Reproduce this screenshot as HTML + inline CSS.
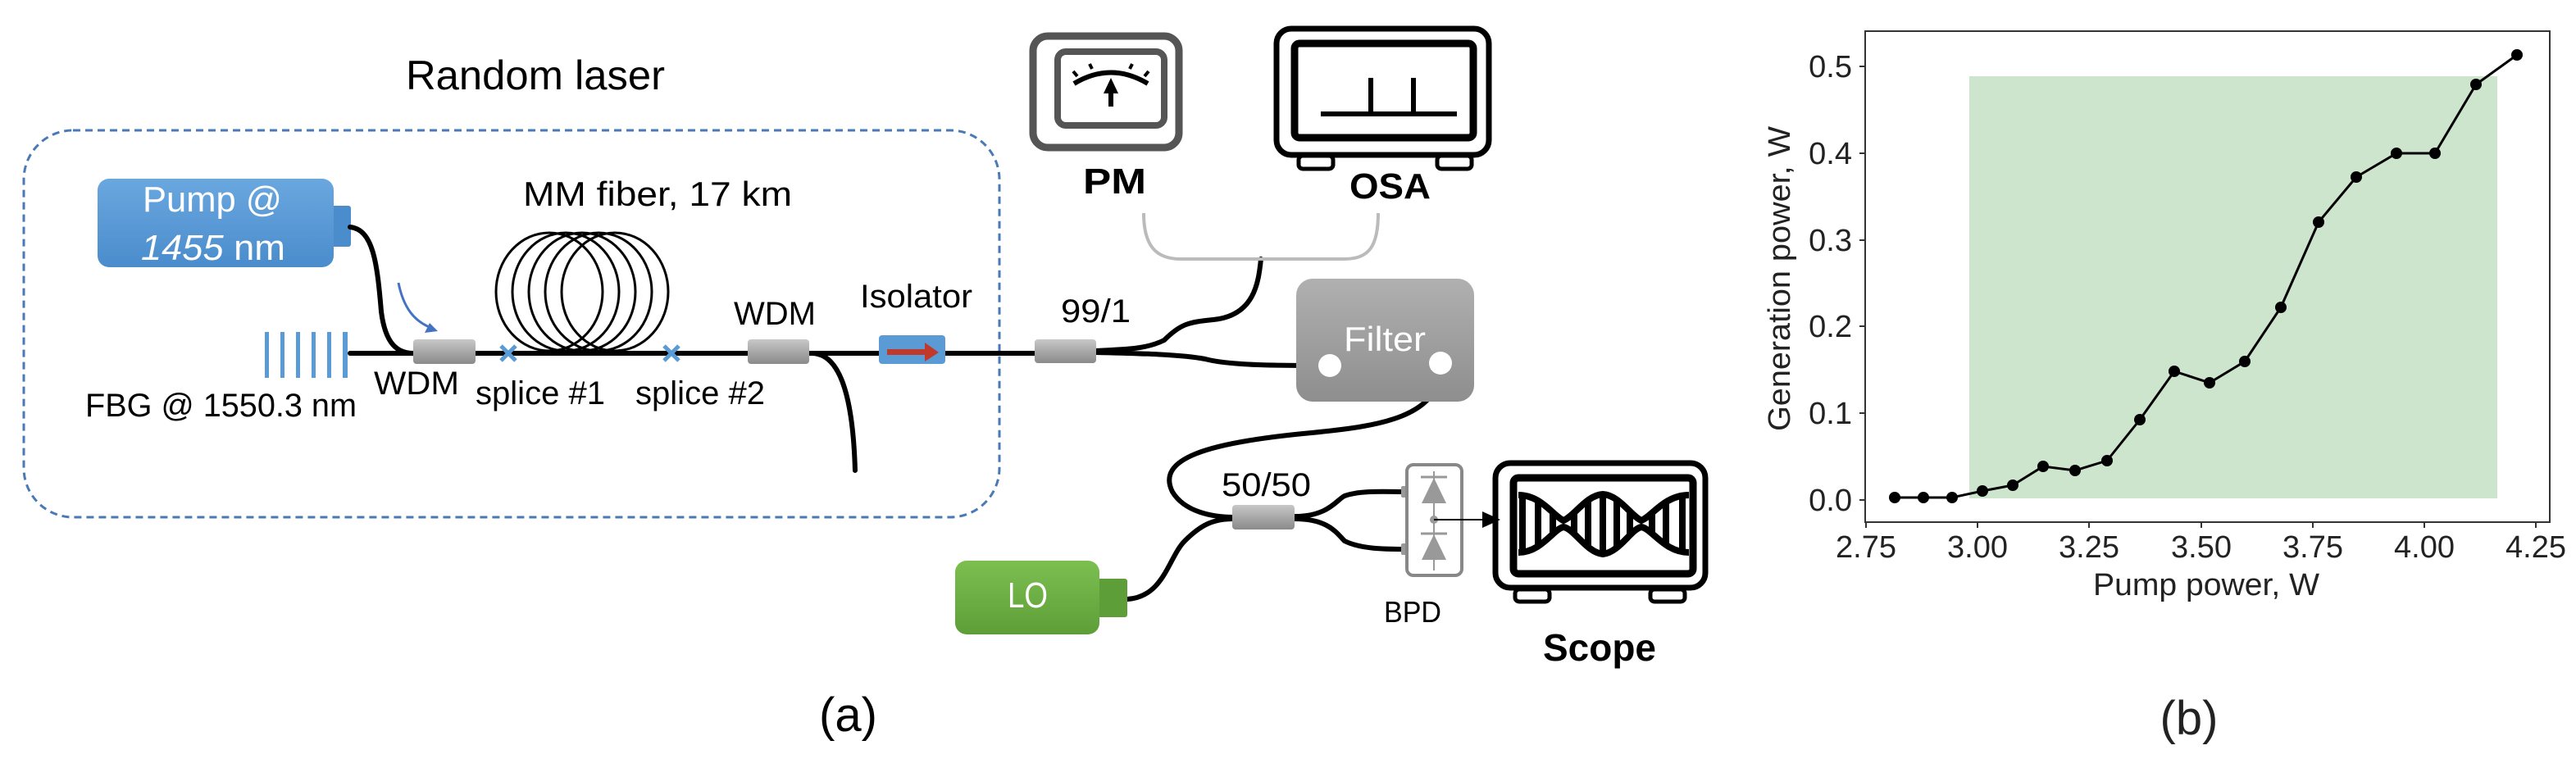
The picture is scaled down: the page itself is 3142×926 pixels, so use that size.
<!DOCTYPE html>
<html><head><meta charset="utf-8"><style>html,body{margin:0;padding:0;background:#fff}svg{display:block}</style></head>
<body>
<svg width="3142" height="926" viewBox="0 0 3142 926" xmlns="http://www.w3.org/2000/svg" font-family="Liberation Sans, sans-serif">
<defs>
<linearGradient id="gc" x1="0" y1="0" x2="0" y2="1"><stop offset="0" stop-color="#c8c8c8"/><stop offset="0.5" stop-color="#a8a8a8"/><stop offset="1" stop-color="#8a8a8a"/></linearGradient>
<linearGradient id="gp" x1="0" y1="0" x2="0" y2="1"><stop offset="0" stop-color="#6aa7df"/><stop offset="1" stop-color="#4a8ccc"/></linearGradient>
<linearGradient id="gf" x1="0" y1="0" x2="0" y2="1"><stop offset="0" stop-color="#b0b0b0"/><stop offset="1" stop-color="#8e8e8e"/></linearGradient>
<linearGradient id="gl" x1="0" y1="0" x2="0" y2="1"><stop offset="0" stop-color="#7cbf50"/><stop offset="1" stop-color="#5e9e38"/></linearGradient>
</defs>

<rect x="29" y="159" width="1190" height="472" rx="60" fill="none" stroke="#4a7ab5" stroke-width="3" stroke-dasharray="9,6"/>
<text x="495" y="109" font-size="50" textLength="316" lengthAdjust="spacingAndGlyphs">Random laser</text>

<rect x="404" y="251" width="24" height="50" rx="3" fill="#4a8ccc"/>
<rect x="119" y="218" width="288" height="108" rx="14" fill="url(#gp)"/>
<text x="174" y="258" font-size="44" fill="#fff" textLength="170" lengthAdjust="spacingAndGlyphs">Pump @</text>
<text x="172" y="317" font-size="44" fill="#fff" textLength="176" lengthAdjust="spacingAndGlyphs"><tspan font-style="italic">1455</tspan> nm</text>

<g fill="none" stroke="#000" stroke-width="6" stroke-linecap="round">
<path d="M427 431 L1262 431"/>
<path d="M427 277 C455 280 460 320 465 380 C470 420 485 431 504 431"/>
<path d="M990 431 C1020 431 1040 470 1043 574"/>
<path d="M1337 428 C1380 426 1400 425 1420 415 C1440 395 1450 393 1480 390 C1530 385 1535 345 1538 316"/>
<path d="M1337 430 C1380 431 1440 432 1470 438 C1500 446 1560 446 1621 446"/>
<path d="M1757 443 C1760 510 1680 520 1600 528 C1470 540 1410 560 1430 600 C1445 625 1480 631 1505 631"/>
<path d="M1375 731 C1420 728 1425 680 1445 660 C1465 640 1480 633 1505 633"/>
<path d="M1579 630 C1620 630 1630 610 1640 605 C1660 598 1690 600 1712 600"/>
<path d="M1579 633 C1620 633 1630 650 1640 660 C1660 670 1690 670 1712 670"/>
</g>
<path d="M486 345 C492 375 505 392 526 400" fill="none" stroke="#4472c4" stroke-width="3"/>
<path d="M534 404 L518 406 L524 394 Z" fill="#4472c4"/>

<g fill="#5b9bd5">
<rect x="323" y="405" width="5" height="56"/><rect x="342" y="405" width="5" height="56"/><rect x="361" y="405" width="5" height="56"/><rect x="380" y="405" width="5" height="56"/><rect x="399" y="405" width="5" height="56"/><rect x="418" y="405" width="6" height="56"/>
</g>
<text x="104" y="508" font-size="40" textLength="331" lengthAdjust="spacingAndGlyphs">FBG @ 1550.3 nm</text>

<rect x="504" y="414" width="76" height="30" rx="4" fill="url(#gc)"/>
<text x="456" y="481" font-size="40" textLength="104" lengthAdjust="spacingAndGlyphs">WDM</text>
<rect x="912" y="414" width="75" height="30" rx="4" fill="url(#gc)"/>
<text x="895" y="396" font-size="40" textLength="100" lengthAdjust="spacingAndGlyphs">WDM</text>
<rect x="1262" y="414" width="75" height="29" rx="4" fill="url(#gc)"/>
<text x="1294" y="393" font-size="40" textLength="85" lengthAdjust="spacingAndGlyphs">99/1</text>
<rect x="1503" y="616" width="76" height="30" rx="4" fill="url(#gc)"/>
<text x="1490" y="605" font-size="40" textLength="109" lengthAdjust="spacingAndGlyphs">50/50</text>

<g stroke="#5b9bd5" stroke-width="5">
<path d="M611 422 L629 440 M629 422 L611 440"/>
<path d="M810 422 L828 440 M828 422 L810 440"/>
</g>
<text x="580" y="493" font-size="40" textLength="158" lengthAdjust="spacingAndGlyphs">splice #1</text>
<text x="775" y="493" font-size="40" textLength="158" lengthAdjust="spacingAndGlyphs">splice #2</text>

<g fill="none" stroke="#000" stroke-width="3">
<ellipse cx="670" cy="356" rx="65" ry="72"/>
<ellipse cx="690" cy="356" rx="65" ry="72"/>
<ellipse cx="710" cy="356" rx="65" ry="72"/>
<ellipse cx="730" cy="356" rx="65" ry="72"/>
<ellipse cx="750" cy="356" rx="65" ry="72"/>
</g>
<text x="638" y="251" font-size="42" textLength="328" lengthAdjust="spacingAndGlyphs">MM fiber, 17 km</text>

<rect x="1072" y="409" width="81" height="35" rx="4" fill="#5b9bd5"/>
<rect x="1082" y="426" width="48" height="7" fill="#c0392b"/>
<path d="M1128 418 L1145 430 L1128 441 Z" fill="#c0392b"/>
<text x="1049" y="375" font-size="40" textLength="137" lengthAdjust="spacingAndGlyphs">Isolator</text>

<path d="M1395 260 C1395 300 1410 316 1440 316 L1640 316 C1670 316 1681 300 1681 260" fill="none" stroke="#bbb" stroke-width="4"/>

<rect x="1260" y="44" width="178" height="136" rx="18" fill="none" stroke="#555" stroke-width="9"/>
<rect x="1290" y="63" width="130" height="90" rx="10" fill="none" stroke="#555" stroke-width="8"/>
<path d="M1310 102 Q1355 75 1400 102" fill="none" stroke="#000" stroke-width="6"/>
<g stroke="#000" stroke-width="4"><path d="M1314 93 L1309 87 M1332 84 L1329 78 M1378 84 L1381 78 M1396 93 L1401 87"/></g>
<path d="M1355 130 L1355 112" stroke="#000" stroke-width="6"/>
<path d="M1355 95 L1346 114 L1364 114 Z" fill="#000"/>
<text x="1321" y="236" font-size="44" font-weight="bold" textLength="77" lengthAdjust="spacingAndGlyphs">PM</text>

<rect x="1557" y="35" width="259" height="154" rx="18" fill="none" stroke="#000" stroke-width="7"/>
<rect x="1579" y="53" width="218" height="115" rx="6" fill="none" stroke="#000" stroke-width="9"/>
<rect x="1584" y="190" width="42" height="16" rx="5" fill="none" stroke="#000" stroke-width="5"/>
<rect x="1753" y="190" width="42" height="16" rx="5" fill="none" stroke="#000" stroke-width="5"/>
<path d="M1611 139 L1777 139 M1672 139 L1672 95 M1724 139 L1724 95" stroke="#000" stroke-width="6"/>
<text x="1646" y="242" font-size="44" font-weight="bold" textLength="99" lengthAdjust="spacingAndGlyphs">OSA</text>

<rect x="1581" y="340" width="217" height="150" rx="20" fill="url(#gf)"/>
<text x="1639" y="428" font-size="42" fill="#fff" textLength="100" lengthAdjust="spacingAndGlyphs">Filter</text>
<circle cx="1622" cy="446" r="14" fill="#fff"/>
<circle cx="1757" cy="443" r="14" fill="#fff"/>

<rect x="1338" y="706" width="37" height="47" rx="3" fill="#5e9e38"/>
<rect x="1165" y="684" width="176" height="90" rx="14" fill="url(#gl)"/>
<text x="1229" y="741" font-size="44" fill="#fff" textLength="49" lengthAdjust="spacingAndGlyphs">LO</text>

<rect x="1709" y="593" width="9" height="14" rx="2" fill="#999"/>
<rect x="1709" y="663" width="9" height="14" rx="2" fill="#999"/>
<rect x="1716" y="567" width="67" height="135" rx="8" fill="none" stroke="#888" stroke-width="4"/>
<path d="M1749 575 L1749 696" stroke="#999" stroke-width="2"/>
<path d="M1733 582 L1765 582 M1733 651 L1765 651" stroke="#999" stroke-width="3"/>
<path d="M1749 583 L1734 614 L1764 614 Z M1749 652 L1734 683 L1764 683 Z" fill="#999"/>
<circle cx="1749" cy="634" r="5" fill="#999"/>
<path d="M1749 634 L1815 634" stroke="#000" stroke-width="2"/>
<path d="M1830 634 L1808 624 L1808 644 Z" fill="#000"/>
<text x="1688" y="759" font-size="36" textLength="70" lengthAdjust="spacingAndGlyphs">BPD</text>

<rect x="1824" y="565" width="256" height="152" rx="18" fill="none" stroke="#000" stroke-width="7"/>
<rect x="1846" y="583" width="219" height="117" rx="6" fill="none" stroke="#000" stroke-width="9"/>
<rect x="1848" y="719" width="42" height="15" rx="5" fill="none" stroke="#000" stroke-width="5"/>
<rect x="2013" y="719" width="42" height="15" rx="5" fill="none" stroke="#000" stroke-width="5"/>
<g fill="none" stroke="#000" stroke-width="8">
<path d="M1852 604 C1880 604 1895 630 1907 635 C1920 630 1935 604 1955 603 C1975 604 1990 630 2002 635 C2015 630 2030 604 2060 604"/>
<path d="M1852 674 C1880 674 1895 645 1907 643 C1920 645 1935 674 1955 676 C1975 674 1990 645 2002 643 C2015 645 2030 674 2060 674"/>
<path d="M1857 604 L1857 674 M1876 610 L1876 668 M1894 626 L1894 652 M1920 626 L1920 652 M1937 612 L1937 666 M1955 604 L1955 676 M1972 612 L1972 666 M1988 626 L1988 652 M2015 626 L2015 652 M2032 612 L2032 666 M2052 604 L2052 674"/>
</g>
<text x="1882" y="806" font-size="46" font-weight="bold" textLength="138" lengthAdjust="spacingAndGlyphs">Scope</text>

<text x="999" y="892" font-size="58" textLength="71" lengthAdjust="spacingAndGlyphs">(a)</text>

<rect x="2402" y="93" width="644" height="515" fill="#cde5cd"/>
<rect x="2275" y="38" width="835" height="599" fill="none" stroke="#333" stroke-width="2"/>
<g stroke="#333" stroke-width="2">
<path d="M2268 610 L2275 610 M2268 504 L2275 504 M2268 398 L2275 398 M2268 293 L2275 293 M2268 187 L2275 187 M2268 81 L2275 81"/>
<path d="M2276 637 L2276 644 M2412 637 L2412 644 M2548 637 L2548 644 M2685 637 L2685 644 M2821 637 L2821 644 M2957 637 L2957 644 M3093 637 L3093 644"/>
</g>
<g font-size="38" fill="#222" text-anchor="end">
<text x="2259" y="623">0.0</text><text x="2259" y="517">0.1</text><text x="2259" y="411">0.2</text><text x="2259" y="306">0.3</text><text x="2259" y="200">0.4</text><text x="2259" y="94">0.5</text>
</g>
<g font-size="38" fill="#222" text-anchor="middle">
<text x="2276" y="680">2.75</text><text x="2412" y="680">3.00</text><text x="2548" y="680">3.25</text><text x="2685" y="680">3.50</text><text x="2821" y="680">3.75</text><text x="2957" y="680">4.00</text><text x="3093" y="680">4.25</text>
<text x="2691" y="726" textLength="276" lengthAdjust="spacingAndGlyphs">Pump power, W</text>
<text x="0" y="0" textLength="372" lengthAdjust="spacingAndGlyphs" transform="translate(2183 340) rotate(-90)">Generation power, W</text>
<text x="2670" y="896" font-size="58">(b)</text>
</g>
<polyline fill="none" stroke="#000" stroke-width="3" points="2311,607 2346,607 2381,607 2418,599 2455,592 2492,569 2531,574 2570,562 2610,512 2652,453 2695,467 2738,441 2782,375 2828,271 2874,216 2923,187 2970,187 3020,103 3070,67"/>
<g fill="#000">
<circle cx="2311" cy="607" r="7"/><circle cx="2346" cy="607" r="7"/><circle cx="2381" cy="607" r="7"/><circle cx="2418" cy="599" r="7"/><circle cx="2455" cy="592" r="7"/><circle cx="2492" cy="569" r="7"/><circle cx="2531" cy="574" r="7"/><circle cx="2570" cy="562" r="7"/><circle cx="2610" cy="512" r="7"/><circle cx="2652" cy="453" r="7"/><circle cx="2695" cy="467" r="7"/><circle cx="2738" cy="441" r="7"/><circle cx="2782" cy="375" r="7"/><circle cx="2828" cy="271" r="7"/><circle cx="2874" cy="216" r="7"/><circle cx="2923" cy="187" r="7"/><circle cx="2970" cy="187" r="7"/><circle cx="3020" cy="103" r="7"/><circle cx="3070" cy="67" r="7"/>
</g>
</svg>
</body></html>
